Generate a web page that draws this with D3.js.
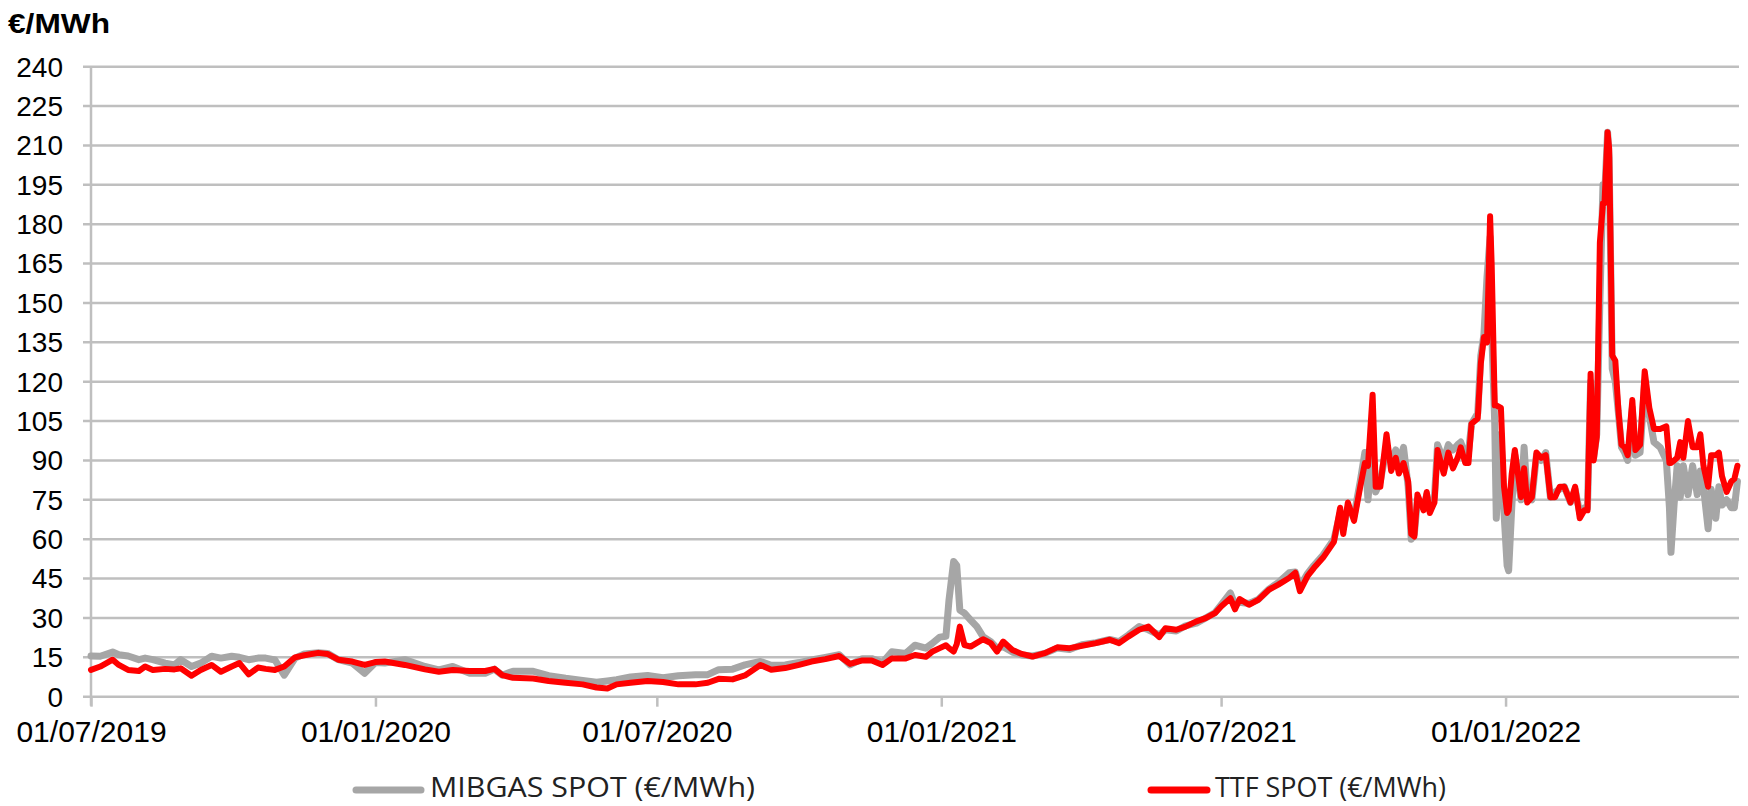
<!DOCTYPE html>
<html>
<head>
<meta charset="utf-8">
<script src="https://cdn.jsdelivr.net/npm/d3@7"></script>
<style>
  body { margin: 0; background: #fff; }
  svg { display: block; }
</style>
</head>
<body>
<svg id="chart"></svg>
<script>
const width = 1748;
const height = 806;
const plotLeft = 91, plotRight = 1739, plotTop = 66.7, plotBottom = 696.7;

const unitLabel = '€/MWh';
const yTicks = [0, 15, 30, 45, 60, 75, 90, 105, 120, 135, 150, 165, 180, 195, 210, 225, 240];
const xTicks = ['2019-07-01', '2020-01-01', '2020-07-01', '2021-01-01', '2021-07-01', '2022-01-01'];
const seriesNames = ['MIBGAS SPOT (€/MWh)', 'TTF SPOT (€/MWh)'];

const dates = [
  '2019-07-01','2019-07-07','2019-07-15','2019-07-19','2019-07-25','2019-08-01','2019-08-05','2019-08-10',
  '2019-08-18','2019-08-24','2019-08-28','2019-09-04','2019-09-10','2019-09-17','2019-09-23','2019-09-30',
  '2019-10-05','2019-10-11','2019-10-17','2019-10-22','2019-10-28','2019-11-03','2019-11-10','2019-11-16',
  '2019-11-25','2019-12-01','2019-12-08','2019-12-17','2019-12-25','2020-01-01','2020-01-07','2020-01-20',
  '2020-02-02','2020-02-11','2020-02-20','2020-03-02','2020-03-12','2020-03-18','2020-03-23',
  '2020-03-30','2020-04-12','2020-04-22','2020-05-03','2020-05-14','2020-05-23','2020-05-30','2020-06-05',
  '2020-06-14','2020-06-25','2020-07-05','2020-07-15','2020-07-26','2020-08-03','2020-08-10','2020-08-19',
  '2020-08-27','2020-09-06','2020-09-13','2020-09-22','2020-10-01','2020-10-09','2020-10-18','2020-10-27',
  '2020-11-03','2020-11-11','2020-11-17','2020-11-24','2020-11-30','2020-12-09','2020-12-15','2020-12-22',
  '2020-12-26','2020-12-31','2021-01-04',
  '2021-01-06','2021-01-09','2021-01-11','2021-01-13','2021-01-16','2021-01-20','2021-01-24','2021-01-28',
  '2021-02-02','2021-02-06','2021-02-10','2021-02-16','2021-02-22','2021-03-01','2021-03-09','2021-03-17',
  '2021-03-25','2021-04-02','2021-04-11','2021-04-20','2021-04-26','2021-05-02','2021-05-09','2021-05-15',
  '2021-05-22','2021-05-26','2021-06-02','2021-06-08','2021-06-15','2021-06-21','2021-06-27','2021-07-01',
  '2021-07-07','2021-07-10','2021-07-13','2021-07-19','2021-07-25','2021-08-01','2021-08-07','2021-08-14',
  '2021-08-18','2021-08-21',
  '2021-08-26','2021-08-30','2021-09-05','2021-09-12','2021-09-16','2021-09-18','2021-09-21','2021-09-25',
  '2021-09-29','2021-10-02','2021-10-04','2021-10-07','2021-10-09','2021-10-12','2021-10-16','2021-10-19',
  '2021-10-22','2021-10-24','2021-10-27','2021-10-30','2021-11-01','2021-11-03','2021-11-05','2021-11-09',
  '2021-11-11','2021-11-13','2021-11-16','2021-11-18','2021-11-22','2021-11-25','2021-11-28','2021-12-01',
  '2021-12-03','2021-12-06','2021-12-08','2021-12-10','2021-12-14','2021-12-16','2021-12-18','2021-12-20',
  '2021-12-22','2021-12-23','2021-12-25','2021-12-26','2021-12-29','2021-12-31','2022-01-02','2022-01-03',
  '2022-01-05','2022-01-07','2022-01-09','2022-01-11','2022-01-13','2022-01-15','2022-01-18','2022-01-21',
  '2022-01-24','2022-01-27','2022-01-30','2022-02-02','2022-02-05','2022-02-08','2022-02-12','2022-02-15',
  '2022-02-18','2022-02-21','2022-02-23','2022-02-25','2022-02-27','2022-03-01','2022-03-03','2022-03-05',
  '2022-03-06','2022-03-08','2022-03-09','2022-03-11','2022-03-13','2022-03-15','2022-03-17','2022-03-19',
  '2022-03-21','2022-03-24','2022-03-26','2022-03-29','2022-04-01','2022-04-04','2022-04-07','2022-04-11',
  '2022-04-15','2022-04-17','2022-04-18','2022-04-20','2022-04-22','2022-04-24','2022-04-26','2022-04-29',
  '2022-05-02','2022-05-05','2022-05-07','2022-05-09','2022-05-12','2022-05-14','2022-05-17','2022-05-19',
  '2022-05-21','2022-05-24','2022-05-27','2022-05-29','2022-05-31'
];

const mibgas = [
  15.5, 15.4, 17.0, 16.0, 15.5, 14.1, 14.7, 14.1,
  12.8, 12.1, 14.1, 11.5, 12.8, 15.4, 14.7, 15.4,
  15.0, 14.1, 14.7, 14.7, 14.0, 8.2, 14.7, 16.3,
  16.7, 16.5, 14.1, 12.8, 8.9, 13.0, 12.8, 14.1,
  11.5, 10.2, 11.5, 8.9, 8.9, 10.5, 8.2,
  9.7, 9.7, 8.0, 7.0, 6.2, 5.5, 6.0, 6.5,
  7.5, 8.1, 7.2, 8.0, 8.4, 8.4, 10.3, 10.5,
  12.1, 13.4, 12.0, 12.1, 13.0, 14.0, 15.0, 16.0,
  12.1, 14.5, 14.5, 13.0, 17.1, 16.5, 19.6, 18.5,
  20.2, 22.7, 23.0,
  36.9, 51.5, 50.0, 33.0, 31.8, 29.2, 26.7, 22.9,
  21.0, 18.5, 19.0, 17.0, 15.9, 15.5, 16.5, 18.5,
  18.0, 19.8, 20.6, 21.8, 21.0, 23.5, 26.7, 25.5,
  23.5, 25.5, 25.0, 27.0, 28.0, 30.0, 32.0, 35.0,
  39.5, 35.0, 36.0, 35.5, 37.0, 41.0, 43.5, 47.2,
  47.5, 42.0,
  47, 50, 54, 60, 70, 64, 72, 69,
  82, 93, 75, 95, 78, 82, 95, 90,
  94, 88, 95, 80, 60, 62, 75, 72,
  77, 71, 76, 96, 90, 96, 94, 96,
  97, 92, 93, 104, 108, 130, 138, 160,
  175, 140, 104, 68, 100, 70, 50, 48,
  72, 92, 84, 75, 95, 76, 75, 92,
  90, 93, 76, 78, 79, 80, 74, 79,
  70, 72, 72, 120, 91, 100, 150, 195,
  190, 215, 205, 125, 120, 108, 95, 93,
  90, 110, 92, 93, 120, 107, 97, 95,
  90, 72, 55, 73, 88, 76, 88, 77,
  88, 77, 86, 80, 64, 79, 68, 80,
  73, 75, 72, 72, 82
];

const ttf = [
  10.2, 11.5, 14.1, 12.1, 10.2, 9.8, 11.5, 10.2,
  10.6, 10.4, 10.8, 8.0, 10.2, 12.1, 9.5, 11.5,
  12.8, 8.5, 11.1, 10.6, 10.2, 11.5, 15.0, 15.8,
  16.7, 16.3, 14.1, 13.4, 12.1, 13.2, 13.4, 12.1,
  10.4, 9.5, 10.2, 9.8, 9.8, 10.6, 8.2,
  7.2, 6.9, 6.0, 5.3, 4.7, 3.5, 3.1, 4.7,
  5.3, 6.0, 5.6, 4.7, 4.7, 5.3, 6.8, 6.6,
  8.1, 12.1, 10.3, 10.9, 12.1, 13.4, 14.3, 15.5,
  12.5, 13.8, 13.8, 12.1, 14.6, 14.6, 15.9, 15.2,
  17.1, 18.5, 19.6,
  18.5, 17.2, 20.0, 26.7, 19.7, 19.1, 20.5, 21.9,
  20.4, 17.2, 21.0, 17.8, 16.3, 15.3, 16.6, 18.8,
  18.5, 19.4, 20.4, 21.7, 20.4, 22.9, 25.5, 26.7,
  22.7, 26.1, 25.5, 26.7, 28.7, 29.9, 31.8, 34.4,
  37.5, 33.3, 37.2, 35.0, 36.9, 40.8, 42.7, 45.2,
  47.2, 40.2,
  46, 49, 53, 59, 72, 62, 74, 67,
  80, 89, 88, 115, 80, 80, 100, 86,
  91, 85, 89, 82, 62, 61, 77, 71,
  78, 70, 74, 94, 85, 93, 87, 91,
  95, 89, 89, 104, 106, 127, 137, 135,
  183, 165, 111, 111, 110, 80, 70, 71,
  85, 94, 85, 76, 87, 74, 76, 93,
  91, 92, 76, 76, 80, 80, 74, 80,
  68, 71, 71, 123, 90, 99, 173, 188,
  188, 215, 209, 130, 128, 109, 96, 95,
  92, 113, 94, 96, 124, 110, 102, 102,
  103, 89, 89, 90, 91, 97, 91, 105,
  95, 95, 100, 88, 80, 92, 92, 93,
  84, 78, 82, 83, 88
];

const parse = d3.timeParse('%Y-%m-%d');
const fmt = d3.timeFormat('%d/%m/%Y');

const svg = d3.select('#chart').attr('width', width).attr('height', height);

const x = d3.scaleTime()
  .domain([parse('2019-07-01'), parse('2022-06-01')])
  .range([plotLeft, plotRight]);
const y = d3.scaleLinear().domain([0, 240]).range([plotBottom, plotTop]);

// gridlines, with the small tick stubs left of the axis
svg.append('g').selectAll('line')
  .data(yTicks).enter().append('line')
  .attr('x1', plotLeft - 8).attr('x2', plotRight)
  .attr('y1', d => y(d)).attr('y2', d => y(d))
  .attr('stroke', '#bfbfbf').attr('stroke-width', 2.5);

svg.append('line')
  .attr('x1', plotLeft).attr('x2', plotLeft)
  .attr('y1', plotTop).attr('y2', plotBottom + 9)
  .attr('stroke', '#bfbfbf').attr('stroke-width', 2.5);

// y labels
svg.append('g').selectAll('text')
  .data(yTicks).enter().append('text')
  .attr('x', 63).attr('y', d => y(d))
  .attr('dy', '0.35em')
  .attr('text-anchor', 'end')
  .attr('font-family', 'Liberation Sans, Arial, sans-serif')
  .attr('font-size', 28)
  .attr('fill', '#000')
  .text(d => d);

// x axis
const xAxis = svg.append('g')
  .attr('transform', `translate(0, ${plotBottom})`)
  .call(d3.axisBottom(x)
    .tickValues(xTicks.map(parse))
    .tickFormat(fmt)
    .tickSize(10)
    .tickPadding(14));
xAxis.select('.domain').remove();
xAxis.selectAll('.tick line').attr('stroke', '#bfbfbf').attr('stroke-width', 2.5);
xAxis.selectAll('.tick text')
  .attr('font-family', 'Liberation Sans, Arial, sans-serif')
  .attr('font-size', 30)
  .attr('fill', '#000');

// title
svg.append('text')
  .attr('x', 8).attr('y', 33)
  .attr('font-family', 'Liberation Sans, Arial, sans-serif')
  .attr('font-weight', 'bold')
  .attr('font-size', 28)
  .attr('textLength', 102)
  .attr('lengthAdjust', 'spacingAndGlyphs')
  .text(unitLabel);

const line = d3.line()
  .x((d, i) => x(parse(dates[i])))
  .y(d => y(d));

svg.append('path')
  .datum(mibgas)
  .attr('d', line)
  .attr('fill', 'none')
  .attr('stroke', '#a6a6a6')
  .attr('stroke-width', 7)
  .attr('stroke-linejoin', 'round')
  .attr('stroke-linecap', 'round');

svg.append('path')
  .datum(ttf)
  .attr('d', line)
  .attr('fill', 'none')
  .attr('stroke', '#ff0000')
  .attr('stroke-width', 6)
  .attr('stroke-linejoin', 'round')
  .attr('stroke-linecap', 'round');

// legend
const legend = [
  { name: seriesNames[0], color: '#a6a6a6', x1: 356, x2: 421, tx: 430, tw: 325 },
  { name: seriesNames[1], color: '#ff0000', x1: 1151, x2: 1207, tx: 1215, tw: 231 }
];
const lg = svg.append('g').selectAll('g').data(legend).enter().append('g');
lg.append('line')
  .attr('x1', d => d.x1).attr('x2', d => d.x2)
  .attr('y1', 790).attr('y2', 790)
  .attr('stroke', d => d.color)
  .attr('stroke-width', 7)
  .attr('stroke-linecap', 'round');
lg.append('text')
  .attr('x', d => d.tx).attr('y', 797)
  .attr('font-family', 'Open Sans, sans-serif')
  .attr('font-size', 27)
  .attr('textLength', d => d.tw)
  .attr('lengthAdjust', 'spacingAndGlyphs')
  .attr('fill', '#222')
  .text(d => d.name);
</script>
</body>
</html>
